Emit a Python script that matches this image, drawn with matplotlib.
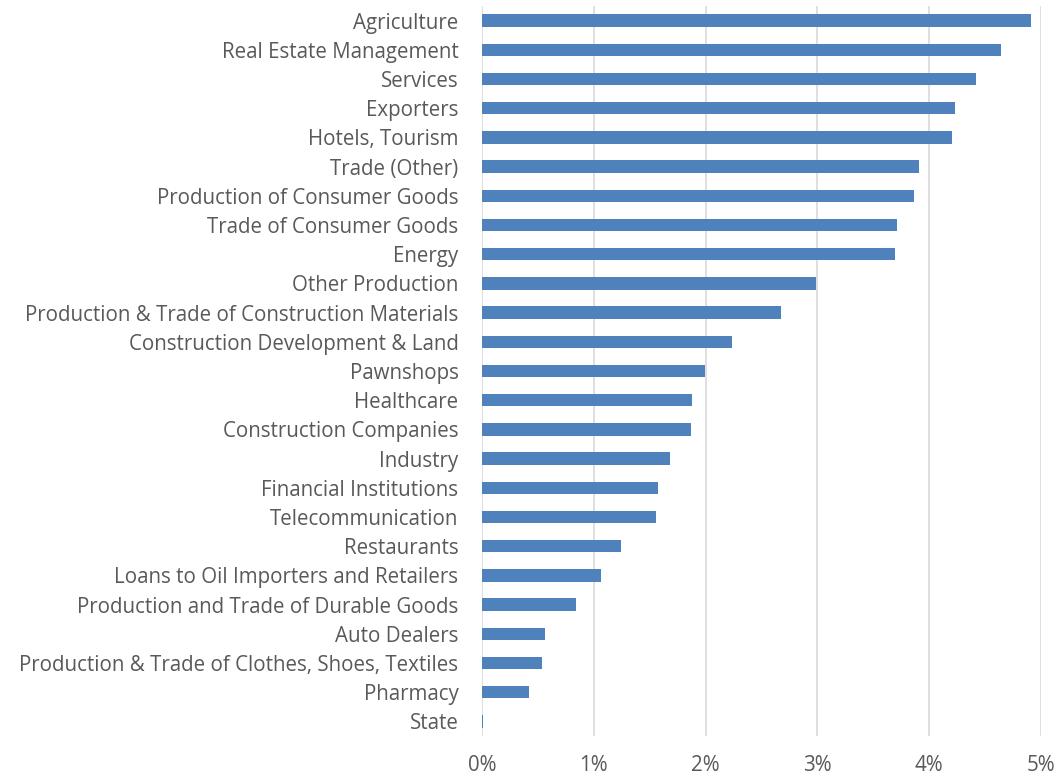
import matplotlib
matplotlib.use("Agg")
import matplotlib.pyplot as plt
from matplotlib.ticker import FuncFormatter

plt.rcParams["font.family"] = ["Open Sans", "DejaVu Sans"]

# top to bottom, as shown
categories = [
    "Agriculture",
    "Real Estate Management",
    "Services",
    "Exporters",
    "Hotels, Tourism",
    "Trade (Other)",
    "Production of Consumer Goods",
    "Trade of Consumer Goods",
    "Energy",
    "Other Production",
    "Production & Trade of Construction Materials",
    "Construction Development & Land",
    "Pawnshops",
    "Healthcare",
    "Construction Companies",
    "Industry",
    "Financial Institutions",
    "Telecommunication",
    "Restaurants",
    "Loans to Oil Importers and Retailers",
    "Production and Trade of Durable Goods",
    "Auto Dealers",
    "Production & Trade of Clothes, Shoes, Textiles",
    "Pharmacy",
    "State",
]
values = [4.91, 4.64, 4.42, 4.23, 4.20, 3.91, 3.86, 3.71, 3.69, 2.99,
          2.67, 2.24, 1.99, 1.88, 1.87, 1.68, 1.57, 1.56, 1.24, 1.06,
          0.84, 0.56, 0.54, 0.42, 0.01]
xticks = [0, 1, 2, 3, 4, 5]

fig = plt.figure(figsize=(10.61, 7.80), dpi=100)
ax = fig.add_axes([0.4543, 0.0564, 0.5269, 0.9359])

ypos = range(len(categories))
ax.barh(ypos, values, height=0.42, color="#4f81bd", zorder=3)
ax.set_ylim(len(categories) - 0.5, -0.5)
ax.set_xlim(0, 5)
ax.set_yticks(list(ypos))
ax.set_yticklabels(categories)
ax.set_xticks(xticks)
ax.xaxis.set_major_formatter(FuncFormatter(lambda v, p: f"{v:.0f}%"))

ax.grid(axis="x", color="#d9d9d9", linewidth=1.2, zorder=0)
for s in ax.spines.values():
    s.set_visible(False)
ax.tick_params(axis="both", length=0, labelsize=14.8, colors="#595959")
ax.tick_params(axis="x", pad=14)
ax.tick_params(axis="y", pad=17)

fig.savefig("out.png", dpi=100)
